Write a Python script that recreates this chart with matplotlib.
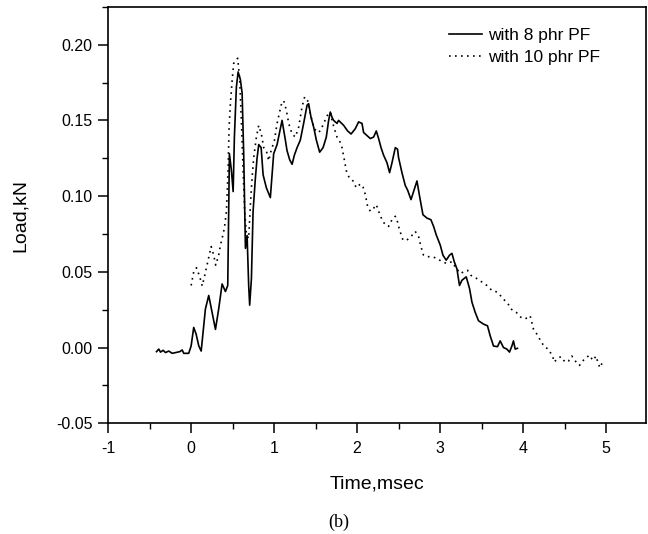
import matplotlib
matplotlib.use('Agg')
import matplotlib.pyplot as plt
from matplotlib.ticker import MultipleLocator, FormatStrFormatter

# with 8 phr PF (solid)
t8 = [-0.416, -0.389, -0.368, -0.336, -0.308, -0.268, -0.227, -0.188, -0.136, -0.107,
      -0.088, -0.028, 0.001, 0.032, 0.061, 0.093, 0.122, 0.173, 0.213, 0.254,
      0.294, 0.333, 0.374, 0.414, 0.442, 0.462, 0.486, 0.507, 0.522, 0.546,
      0.567, 0.594, 0.615, 0.634, 0.655, 0.675, 0.694, 0.706, 0.727, 0.747,
      0.775, 0.795, 0.815, 0.844, 0.868, 0.907, 0.955, 0.995, 1.036, 1.096,
      1.136, 1.156, 1.188, 1.217, 1.244, 1.277, 1.316, 1.356, 1.397, 1.416,
      1.445, 1.477, 1.509, 1.549, 1.590, 1.629, 1.657, 1.677, 1.698, 1.717,
      1.758, 1.777, 1.838, 1.886, 1.927, 1.978, 2.018, 2.059, 2.078, 2.119,
      2.159, 2.199, 2.231, 2.259, 2.288, 2.319, 2.360, 2.391, 2.420, 2.460,
      2.487, 2.499, 2.540, 2.580, 2.608, 2.649, 2.680, 2.721, 2.752, 2.793,
      2.841, 2.889, 2.921, 2.953, 3.001, 3.034, 3.073, 3.113, 3.142, 3.170,
      3.202, 3.233, 3.262, 3.314, 3.354, 3.383, 3.422, 3.462, 3.522, 3.570,
      3.603, 3.643, 3.691, 3.723, 3.763, 3.804, 3.835, 3.864, 3.883, 3.904,
      3.931]
load8 = [-0.0027, -0.001, -0.003, -0.0018, -0.0033, -0.0023, -0.0038, -0.0033, -0.0027, -0.0016,
         -0.0038, -0.0038, 0.0011, 0.0133, 0.0089, 0.0011, -0.0023, 0.0255, 0.0344, 0.023,
         0.012, 0.0255, 0.042, 0.037, 0.041, 0.128, 0.117, 0.103, 0.139, 0.172,
         0.182, 0.177, 0.168, 0.128, 0.0655, 0.074, 0.041, 0.028, 0.0455, 0.09,
         0.112, 0.125, 0.134, 0.132, 0.114, 0.1055, 0.099, 0.128, 0.134, 0.15,
         0.137, 0.13, 0.124, 0.121, 0.127, 0.132, 0.137, 0.148, 0.16, 0.161,
         0.152, 0.1455, 0.137, 0.129, 0.132, 0.139, 0.15, 0.1555, 0.152, 0.15,
         0.148, 0.15, 0.1467, 0.143, 0.141, 0.1445, 0.149, 0.148, 0.142, 0.14,
         0.138, 0.139, 0.143, 0.138, 0.132, 0.127, 0.122, 0.1155, 0.122, 0.132,
         0.131, 0.1255, 0.1155, 0.107, 0.104, 0.0977, 0.103, 0.11, 0.1, 0.0877,
         0.0855, 0.0844, 0.08, 0.0744, 0.0677, 0.061, 0.0577, 0.061, 0.0622, 0.0567,
         0.052, 0.041, 0.0444, 0.0467, 0.039, 0.03, 0.0233, 0.0177, 0.0155, 0.0144,
         0.0077, 0.001, 0.0006, 0.0044, 0.0, -0.001, -0.003, 0.001, 0.0044, -0.001,
         -0.0005]

# with 10 phr PF (dotted)
t10 = [0.001, 0.032, 0.065, 0.105, 0.134, 0.165, 0.201, 0.242, 0.273, 0.297,
       0.333, 0.354, 0.374, 0.402, 0.426, 0.446, 0.458, 0.474, 0.495, 0.514,
       0.543, 0.562, 0.586, 0.606, 0.627, 0.646, 0.667, 0.694, 0.715, 0.735,
       0.755, 0.787, 0.815, 0.847, 0.875, 0.907, 0.935, 0.964, 1.004, 1.036,
       1.067, 1.084, 1.116, 1.148, 1.176, 1.217, 1.256, 1.296, 1.337, 1.368,
       1.404, 1.437, 1.477, 1.517, 1.557, 1.597, 1.638, 1.677, 1.698, 1.726,
       1.758, 1.786, 1.818, 1.846, 1.870, 1.906, 1.951, 1.990, 2.039, 2.071,
       2.099, 2.126, 2.159, 2.199, 2.231, 2.259, 2.300, 2.339, 2.379, 2.420,
       2.460, 2.480, 2.511, 2.552, 2.600, 2.649, 2.700, 2.740, 2.769, 2.800,
       2.848, 2.901, 2.962, 3.022, 3.082, 3.142, 3.182, 3.242, 3.282, 3.330,
       3.371, 3.443, 3.503, 3.563, 3.623, 3.684, 3.744, 3.795, 3.835, 3.852,
       3.916, 3.972, 4.024, 4.084, 4.124, 4.165, 4.205, 4.253, 4.304, 4.325,
       4.357, 4.373, 4.413, 4.454, 4.505, 4.545, 4.586, 4.638, 4.678, 4.734,
       4.798, 4.839, 4.878, 4.906, 4.927, 4.959]
load10 = [0.041, 0.05, 0.0527, 0.0467, 0.0407, 0.0477, 0.0567, 0.0667, 0.061, 0.0544,
          0.061, 0.0677, 0.072, 0.079, 0.09, 0.1167, 0.1455, 0.161, 0.1767, 0.1877,
          0.19, 0.191, 0.1767, 0.15, 0.1167, 0.09, 0.0744, 0.072, 0.0944, 0.112,
          0.1255, 0.139, 0.1467, 0.141, 0.132, 0.13, 0.1233, 0.13, 0.1367, 0.148,
          0.1555, 0.16, 0.163, 0.1567, 0.148, 0.141, 0.139, 0.1455, 0.159, 0.1655,
          0.163, 0.1544, 0.1455, 0.142, 0.143, 0.148, 0.153, 0.1555, 0.15, 0.1445,
          0.139, 0.137, 0.132, 0.124, 0.1167, 0.112, 0.11, 0.1055, 0.108, 0.106,
          0.101, 0.0933, 0.09, 0.092, 0.0944, 0.09, 0.0844, 0.081, 0.08, 0.0844,
          0.0867, 0.0844, 0.0777, 0.071, 0.071, 0.0733, 0.0767, 0.0733, 0.0667, 0.061,
          0.06, 0.06, 0.0589, 0.0567, 0.0555, 0.0567, 0.0533, 0.0489, 0.05, 0.051,
          0.0477, 0.0455, 0.0433, 0.041, 0.0377, 0.0367, 0.0333, 0.03, 0.0277, 0.0255,
          0.0233, 0.02, 0.0189, 0.021, 0.0122, 0.0089, 0.005, 0.0007, -0.0011, -0.003,
          -0.006, -0.0096, -0.0073, -0.006, -0.0096, -0.009, -0.0056, -0.0096, -0.0118, -0.0078,
          -0.005, -0.0085, -0.0056, -0.011, -0.0133, -0.009]

plt.rcParams['font.family'] = ['Liberation Sans', 'DejaVu Sans']
plt.rcParams['axes.unicode_minus'] = False

fig = plt.figure(figsize=(6.48, 5.34), dpi=100)
ax = fig.add_axes([0.1667, 0.2073, 0.8303, 0.78])

ax.plot(t8, load8, color='black', lw=1.2, label='with 8 phr PF')
ax.plot(t10, load10, color='black', lw=1.2, linestyle=(0, (1, 2.6)), label='with 10 phr PF')

ax.set_xlim(-1, 5.48)
ax.set_ylim(-0.05, 0.225)
ax.xaxis.set_major_locator(MultipleLocator(1))
ax.xaxis.set_minor_locator(MultipleLocator(0.5))
ax.yaxis.set_major_locator(MultipleLocator(0.05))
ax.yaxis.set_minor_locator(MultipleLocator(0.025))
ax.yaxis.set_major_formatter(FormatStrFormatter('%.2f'))
ax.tick_params(which='major', direction='out', length=7, width=1.1, labelsize=11.5, pad=4)
ax.tick_params(axis='x', which='major', pad=6)
ax.tick_params(which='minor', direction='out', length=4, width=1.0)
for s in ax.spines.values():
    s.set_linewidth(1.2)

ax.set_xlabel('Time,msec', fontsize=14, labelpad=14)
ax.set_ylabel('Load,kN', fontsize=14, labelpad=20)

leg = ax.legend(loc='upper left', bbox_to_anchor=(0.617, 0.97), frameon=False, borderpad=0,
                fontsize=12.5, handlelength=1.9, handletextpad=0.35, labelspacing=0.38)

fig.text(0.522, 0.014, '(b)', fontsize=13, family='Liberation Serif', ha='center')

fig.savefig('out.png', dpi=100)
